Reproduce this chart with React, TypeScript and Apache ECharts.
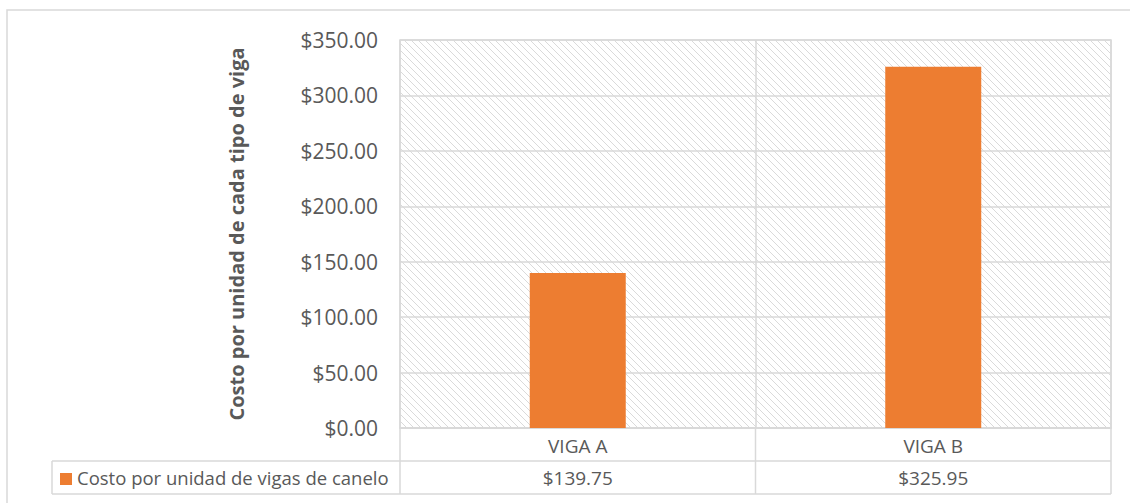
import React, { useEffect, useRef } from "react";
import * as echarts from "echarts";

const categories = ["VIGA A", "VIGA B"];
const costValues = [139.75, 325.95];
const seriesName = "Costo por unidad de vigas de canelo";
const yAxisTitle = "Costo por unidad de cada tipo de viga";
const yMin = 0;
const yMax = 350;
const yInterval = 50;

const fmt = (v: number) => "$" + v.toFixed(2);

function makeHatch(): HTMLCanvasElement {
  const p = 7;
  const c = document.createElement("canvas");
  c.width = p;
  c.height = p;
  const ctx = c.getContext("2d")!;
  ctx.fillStyle = "#ffffff";
  ctx.fillRect(0, 0, p, p);
  ctx.strokeStyle = "#dadada";
  ctx.lineWidth = 1;
  for (let k = -1; k <= 1; k++) {
    ctx.beginPath();
    ctx.moveTo(k * p - 1, -1);
    ctx.lineTo(k * p + p + 1, p + 1);
    ctx.stroke();
  }
  return c;
}

export default function App() {
  const ref = useRef<HTMLDivElement>(null);
  useEffect(() => {
    if (!ref.current) return;
    const chart = echarts.init(ref.current, null, { renderer: "svg" });
    const font = "'Open Sans', sans-serif";
    const gray = "#595959";
    const lineC = "#d9d9d9";
    const gridLeft = 400;
    const gridTop = 40;
    const gridRight = 19;
    const gridBottom = 75;
    chart.setOption({
      animation: false,
      backgroundColor: "#ffffff",
      grid: {
        left: gridLeft,
        top: gridTop,
        right: gridRight,
        bottom: gridBottom,
        show: true,
        backgroundColor: { image: makeHatch(), repeat: "repeat" },
        borderColor: lineC,
        borderWidth: 1.5,
      },
      xAxis: {
        type: "category",
        data: categories,
        axisLine: { show: true, lineStyle: { color: lineC, width: 1.5 } },
        axisTick: { show: false },
        axisLabel: { color: gray, fontFamily: font, fontSize: 19, margin: 8 },
        splitLine: { show: true, lineStyle: { color: lineC, width: 1.5 } },
      },
      yAxis: {
        type: "value",
        min: yMin,
        max: yMax,
        interval: yInterval,
        axisLine: { show: false },
        axisTick: { show: false },
        axisLabel: {
          color: gray,
          fontFamily: font,
          fontSize: 21,
          margin: 22,
          formatter: (v: number) => fmt(v),
        },
        splitLine: { lineStyle: { color: lineC, width: 1.5 } },
      },
      series: [
        {
          type: "bar",
          name: seriesName,
          data: costValues,
          barWidth: "27%",
          itemStyle: { color: "#ed7d31" },
        },
      ],
    });

    const W = 1130;
    const plotRight = W - gridRight;
    const axisY = 503 - gridBottom;
    const rowH = 33;
    const row1 = axisY + rowH;
    const row2 = row1 + rowH;
    const legendLeft = 52;
    const bounds = [gridLeft, (gridLeft + plotRight) / 2, plotRight];
    const ln = (x1: number, y1: number, x2: number, y2: number) => ({
      type: "line",
      shape: { x1, y1, x2, y2 },
      style: { stroke: lineC, lineWidth: 1.5 },
      silent: true,
    });
    const elements: any[] = [
      {
        type: "rect",
        shape: { x: 7, y: 10, width: 1140, height: 600 },
        style: { fill: "none", stroke: lineC, lineWidth: 1.5 },
        silent: true,
      },
      ln(legendLeft, row1, plotRight, row1),
      ln(legendLeft, row2, plotRight, row2),
      ln(legendLeft, row1, legendLeft, row2),
      ...bounds.map((x) => ln(x, axisY, x, row2)),
      {
        type: "rect",
        shape: { x: 60, y: row1 + 12, width: 12, height: 12 },
        style: { fill: "#ed7d31" },
      },
      {
        type: "text",
        x: 77,
        y: (row1 + row2) / 2,
        style: {
          text: seriesName,
          fill: gray,
          font: `18.5px ${font}`,
          textAlign: "left",
          textVerticalAlign: "middle",
        },
      },
      {
        type: "text",
        x: 236,
        y: 234,
        rotation: Math.PI / 2,
        style: {
          text: yAxisTitle,
          fill: gray,
          font: `bold 20px ${font}`,
          textAlign: "center",
          textVerticalAlign: "middle",
        },
      },
      ...categories.map((c, i) => {
        const x = chart.convertToPixel({ xAxisIndex: 0 }, c) as number;
        return {
          type: "text",
          x,
          y: (row1 + row2) / 2,
          style: {
            text: fmt(costValues[i]),
            fill: gray,
            font: `19px ${font}`,
            textAlign: "center",
            textVerticalAlign: "middle",
          },
        };
      }),
    ];
    chart.setOption({ graphic: elements });
    return () => chart.dispose();
  }, []);
  return (
    <div
      ref={ref}
      style={{ position: "fixed", left: 0, top: 0, width: 1130, height: 503 }}
    />
  );
}
